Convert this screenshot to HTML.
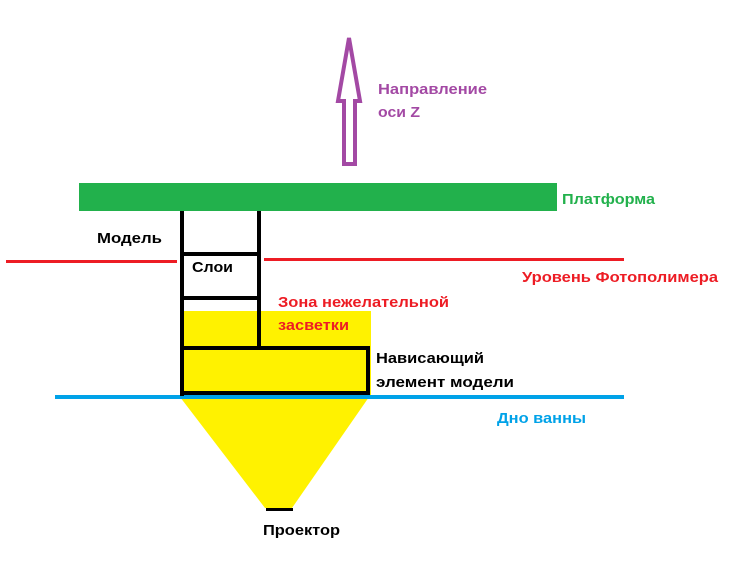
<!DOCTYPE html>
<html><head><meta charset="utf-8"><style>html,body{margin:0;padding:0;background:#fff}svg{display:block}text{font-family:"Liberation Sans",sans-serif;font-weight:bold;font-size:15px}</style></head>
<body>
<svg width="733" height="562" viewBox="0 0 733 562" xmlns="http://www.w3.org/2000/svg">
<rect width="733" height="562" fill="#fff"/>
<polygon points="349,38 360,101 355,101 355,164 344,164 344,101 338,101" fill="none" stroke="#a349a4" stroke-width="4"/>
<text x="378" y="94" fill="#a349a4" textLength="109" lengthAdjust="spacingAndGlyphs">Направление</text>
<text x="378" y="117" fill="#a349a4" textLength="42" lengthAdjust="spacingAndGlyphs">оси Z</text>
<rect x="79" y="183" width="478" height="28" fill="#22b14c"/>
<text x="562" y="204" fill="#22b14c" textLength="93" lengthAdjust="spacingAndGlyphs">Платформа</text>
<rect x="6" y="260" width="171" height="3" fill="#ed1c24"/>
<rect x="264" y="258" width="360" height="3" fill="#ed1c24"/>
<text x="522" y="282" fill="#ed1c24" textLength="196" lengthAdjust="spacingAndGlyphs">Уровень Фотополимера</text>
<rect x="180" y="311" width="191" height="85" fill="#fff200"/>
<polygon points="180,397 369,397 292,508 265,508" fill="#fff200"/>
<rect x="55" y="395" width="569" height="4" fill="#00a2e8"/>
<g stroke="#000" stroke-width="4" fill="none">
<line x1="182" y1="211" x2="182" y2="396"/>
<line x1="259" y1="211" x2="259" y2="348"/>
<line x1="182" y1="254" x2="259" y2="254"/>
<line x1="182" y1="298" x2="261" y2="298"/>
<line x1="182" y1="348" x2="368" y2="348"/>
<line x1="368" y1="346" x2="368" y2="395"/>
<line x1="182" y1="393" x2="368" y2="393"/>
</g>
<rect x="266" y="508" width="27" height="3" fill="#000"/>
<text x="97" y="243" fill="#000" textLength="65" lengthAdjust="spacingAndGlyphs">Модель</text>
<text x="192" y="272" fill="#000" textLength="41" lengthAdjust="spacingAndGlyphs">Слои</text>
<text x="278" y="307" fill="#ed1c24" textLength="171" lengthAdjust="spacingAndGlyphs">Зона нежелательной</text>
<text x="278" y="330" fill="#ed1c24" textLength="71" lengthAdjust="spacingAndGlyphs">засветки</text>
<text x="376" y="363" fill="#000" textLength="108" lengthAdjust="spacingAndGlyphs">Нависающий</text>
<text x="376" y="387" fill="#000" textLength="138" lengthAdjust="spacingAndGlyphs">элемент модели</text>
<text x="497" y="423" fill="#00a2e8" textLength="89" lengthAdjust="spacingAndGlyphs">Дно ванны</text>
<text x="263" y="535" fill="#000" textLength="77" lengthAdjust="spacingAndGlyphs">Проектор</text>
</svg>
</body></html>
